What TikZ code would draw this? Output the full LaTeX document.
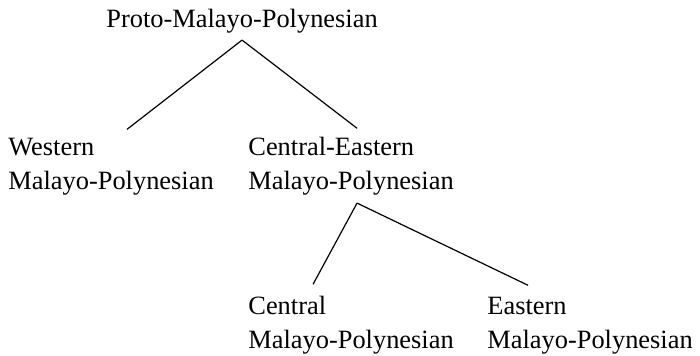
\documentclass[tikz,border=0pt]{standalone}
\usepackage{fontspec}
\setmainfont{Liberation Serif}
\usetikzlibrary{positioning}
\tikzset{
    lang/.style = {inner sep=0pt, align=left, anchor=base west,
                   font=\fontsize{13.2}{17}\selectfont},
    branch/.style = {draw, line width=0.6pt}
    }

\begin{document}
\begin{tikzpicture}[x=0.5pt, y=-0.5pt]
\useasboundingbox (0,0) rectangle (700,356);
\node [lang] (pmp) at (106,28) {Proto-Malayo-Polynesian};
\node [lang] (wmp) at (8,190) {Western\\Malayo-Polynesian};
\node [lang] (cemp) at (248,190) {Central-Eastern\\Malayo-Polynesian};
\node [lang] (cmp) at (248,349) {Central\\Malayo-Polynesian};
\node [lang] (emp) at (487,349) {Eastern\\Malayo-Polynesian};
% branches
\path [branch] ([yshift=-3pt]pmp.south) -- ([xshift=8pt,yshift=4.5pt]wmp.north);
\path [branch] ([yshift=-3pt]pmp.south) -- ([xshift=3pt,yshift=4.5pt]cemp.north);
\path [branch] ([xshift=3pt,yshift=-3.5pt]cemp.south) -- ([xshift=-19pt,yshift=6pt]cmp.north);
\path [branch] ([xshift=3pt,yshift=-3.5pt]cemp.south) -- ([xshift=-31pt,yshift=6pt]emp.north);
\end{tikzpicture}
\end{document}
